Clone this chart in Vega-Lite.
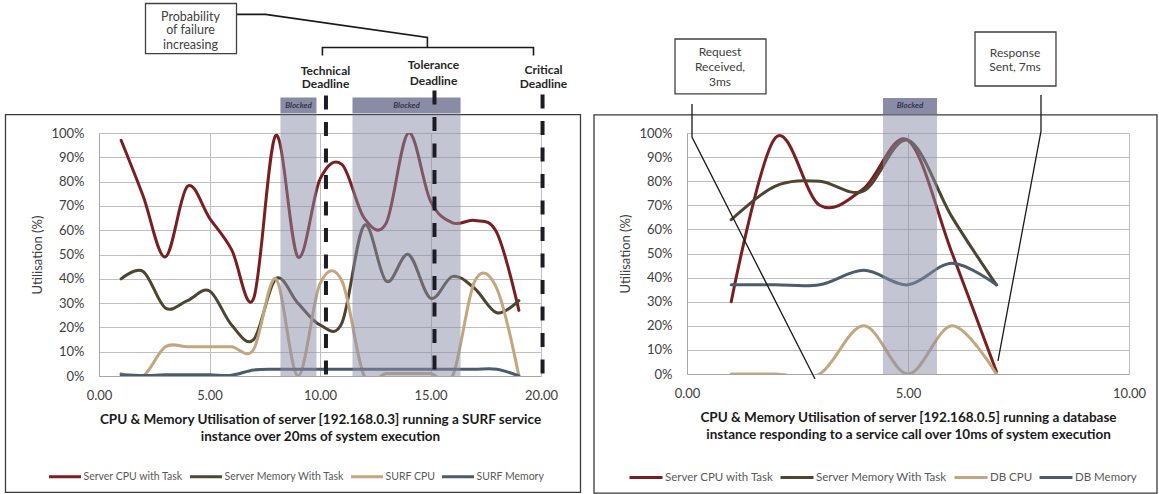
{
  "$schema": "https://vega.github.io/schema/vega-lite/v6.json",
  "background": "white",
  "padding": {"left": 4, "top": 2, "right": 0, "bottom": 0},
  "bounds": "flush",
  "spacing": 146,
  "datasets": {
    "L": [
      {"x": 1, "Server CPU with Task": 0.97, "Server Memory With Task": 0.40, "SURF CPU": 0.01, "SURF Memory": 0.005},
      {"x": 2, "Server CPU with Task": 0.74, "Server Memory With Task": 0.43, "SURF CPU": 0.00, "SURF Memory": 0.002},
      {"x": 3, "Server CPU with Task": 0.49, "Server Memory With Task": 0.28, "SURF CPU": 0.12, "SURF Memory": 0.005},
      {"x": 4, "Server CPU with Task": 0.78, "Server Memory With Task": 0.31, "SURF CPU": 0.12, "SURF Memory": 0.005},
      {"x": 5, "Server CPU with Task": 0.65, "Server Memory With Task": 0.35, "SURF CPU": 0.12, "SURF Memory": 0.005},
      {"x": 6, "Server CPU with Task": 0.52, "Server Memory With Task": 0.21, "SURF CPU": 0.12, "SURF Memory": 0.003},
      {"x": 7, "Server CPU with Task": 0.32, "Server Memory With Task": 0.15, "SURF CPU": 0.11, "SURF Memory": 0.025},
      {"x": 8, "Server CPU with Task": 0.99, "Server Memory With Task": 0.40, "SURF CPU": 0.40, "SURF Memory": 0.028},
      {"x": 9, "Server CPU with Task": 0.49, "Server Memory With Task": 0.30, "SURF CPU": 0.00, "SURF Memory": 0.028},
      {"x": 10, "Server CPU with Task": 0.81, "Server Memory With Task": 0.21, "SURF CPU": 0.38, "SURF Memory": 0.028},
      {"x": 11, "Server CPU with Task": 0.87, "Server Memory With Task": 0.22, "SURF CPU": 0.39, "SURF Memory": 0.028},
      {"x": 12, "Server CPU with Task": 0.65, "Server Memory With Task": 0.62, "SURF CPU": 0.00, "SURF Memory": 0.028},
      {"x": 13, "Server CPU with Task": 0.63, "Server Memory With Task": 0.39, "SURF CPU": 0.01, "SURF Memory": 0.028},
      {"x": 14, "Server CPU with Task": 1.00, "Server Memory With Task": 0.50, "SURF CPU": 0.01, "SURF Memory": 0.028},
      {"x": 15, "Server CPU with Task": 0.72, "Server Memory With Task": 0.32, "SURF CPU": 0.01, "SURF Memory": 0.028},
      {"x": 16, "Server CPU with Task": 0.63, "Server Memory With Task": 0.41, "SURF CPU": 0.00, "SURF Memory": 0.028},
      {"x": 17, "Server CPU with Task": 0.64, "Server Memory With Task": 0.36, "SURF CPU": 0.39, "SURF Memory": 0.028},
      {"x": 18, "Server CPU with Task": 0.59, "Server Memory With Task": 0.26, "SURF CPU": 0.36, "SURF Memory": 0.028},
      {"x": 19, "Server CPU with Task": 0.27, "Server Memory With Task": 0.31, "SURF CPU": 0.00, "SURF Memory": 0.0}
    ],
    "R": [
      {"x": 1, "Server CPU with Task": 0.30, "Server Memory With Task": 0.64, "DB CPU": 0.0, "DB Memory": 0.37},
      {"x": 2, "Server CPU with Task": 0.98, "Server Memory With Task": 0.78, "DB CPU": 0.0, "DB Memory": 0.37},
      {"x": 3, "Server CPU with Task": 0.70, "Server Memory With Task": 0.80, "DB CPU": 0.0, "DB Memory": 0.37},
      {"x": 4, "Server CPU with Task": 0.77, "Server Memory With Task": 0.76, "DB CPU": 0.20, "DB Memory": 0.43},
      {"x": 5, "Server CPU with Task": 0.97, "Server Memory With Task": 0.97, "DB CPU": 0.0, "DB Memory": 0.37},
      {"x": 6, "Server CPU with Task": 0.50, "Server Memory With Task": 0.65, "DB CPU": 0.20, "DB Memory": 0.46},
      {"x": 7, "Server CPU with Task": 0.01, "Server Memory With Task": 0.37, "DB CPU": 0.0, "DB Memory": 0.37}
    ],
    "Lframe": [{"x": -4.231, "x2": 21.787, "y": -0.479, "y2": 1.076}],
    "Lblock": [{"x": 8.21, "x2": 9.84, "y": 0, "y2": 1.076}, {"x": 11.47, "x2": 16.36, "y": 0, "y2": 1.076}],
    "Lband": [{"x": 8.21, "x2": 9.84, "y": 1.080, "y2": 1.146}, {"x": 11.47, "x2": 16.36, "y": 1.080, "y2": 1.146}],
    "Lbandlbl": [{"x": 9.025, "y": 1.113, "label": "Blocked"}, {"x": 13.915, "y": 1.113, "label": "Blocked"}],
    "Ldead": [{"x": 10.27, "y": 1.154, "y2": 0}, {"x": 15.18, "y": 1.175, "y2": 0}, {"x": 20.07, "y": 1.158, "y2": 0}],
    "Lpath": [
      {"path": "p", "k": 1, "x": 6.222, "y": 1.488},
      {"path": "p", "k": 2, "x": 7.534, "y": 1.488},
      {"path": "p", "k": 3, "x": 14.86, "y": 1.393},
      {"path": "p", "k": 4, "x": 14.86, "y": 1.352},
      {"path": "b", "k": 1, "x": 10.11, "y": 1.319},
      {"path": "b", "k": 2, "x": 10.11, "y": 1.352},
      {"path": "b", "k": 3, "x": 19.66, "y": 1.352},
      {"path": "b", "k": 4, "x": 19.66, "y": 1.319}
    ],
    "Lbox": [{"x": 2.104, "x2": 6.222, "y": 1.327, "y2": 1.533}],
    "Lnote": [
      {"x": 4.14, "y": 1.479, "label": "Probability"},
      {"x": 4.14, "y": 1.422, "label": "of failure"},
      {"x": 4.14, "y": 1.364, "label": "increasing"}
    ],
    "Ldl": [
      {"x": 10.249, "y": 1.257, "label": "Technical"},
      {"x": 10.249, "y": 1.200, "label": "Deadline"},
      {"x": 15.136, "y": 1.278, "label": "Tolerance"},
      {"x": 15.136, "y": 1.216, "label": "Deadline"},
      {"x": 20.113, "y": 1.261, "label": "Critical"},
      {"x": 20.113, "y": 1.200, "label": "Deadline"}
    ],
    "Rframe": [{"x": -2.104, "x2": 10.633, "y": -0.494, "y2": 1.075}],
    "Rblock": [{"x": 4.434, "x2": 5.656, "y": 0, "y2": 1.075}],
    "Rband": [{"x": 4.434, "x2": 5.656, "y": 1.079, "y2": 1.145}],
    "Rbandlbl": [{"x": 5.045, "y": 1.112, "label": "Blocked"}],
    "Rpath": [
      {"path": "q", "k": 1, "x": 0.113, "y": 1.120},
      {"path": "q", "k": 2, "x": 0.113, "y": 0.983},
      {"path": "q", "k": 3, "x": 2.896, "y": -0.021},
      {"path": "r", "k": 1, "x": 8.009, "y": 1.158},
      {"path": "r", "k": 2, "x": 8.009, "y": 1.008},
      {"path": "r", "k": 3, "x": 7.036, "y": 0.054}
    ],
    "Rbox": [{"x": -0.271, "x2": 1.787, "y": 1.162, "y2": 1.390}, {"x": 6.516, "x2": 8.348, "y": 1.195, "y2": 1.419}],
    "Rnote": [
      {"x": 0.747, "y": 1.336, "label": "Request"},
      {"x": 0.747, "y": 1.274, "label": "Received,"},
      {"x": 0.747, "y": 1.212, "label": "3ms"},
      {"x": 7.421, "y": 1.332, "label": "Response"},
      {"x": 7.421, "y": 1.274, "label": "Sent, 7ms"}
    ]
  },
  "hconcat": [
    {
      "width": 442,
      "height": 243,
      "encoding": {
        "x": {"field": "x", "type": "quantitative", "scale": {"domain": [0, 20], "nice": false, "zero": false},
          "axis": {"values": [0, 5, 10, 15, 20], "format": ".2f",
            "title": ["CPU & Memory Utilisation of server [192.168.0.3] running a SURF service", "instance over 20ms of system execution"]}},
        "y": {"field": "y", "type": "quantitative", "scale": {"domain": [0, 1], "nice": false, "zero": false},
          "axis": {"values": [0, 0.1, 0.2, 0.3, 0.4, 0.5, 0.6, 0.7, 0.8, 0.9, 1], "format": ".0%", "title": "Utilisation (%)"}}
      },
      "layer": [
        {"data": {"name": "Lframe"}, "mark": {"type": "rect", "fill": "transparent", "stroke": "#3A3A3A", "strokeWidth": 1.3},
          "encoding": {"x2": {"field": "x2"}, "y2": {"field": "y2"}}},
        {"data": {"name": "L"},
          "transform": [{"fold": ["Server CPU with Task", "Server Memory With Task", "SURF CPU", "SURF Memory"], "as": ["series", "y"]}],
          "mark": {"type": "line", "interpolate": "cardinal", "strokeWidth": 3, "clip": true, "strokeCap": "round"},
          "encoding": {"color": {"field": "series", "type": "nominal",
            "scale": {"domain": ["Server CPU with Task", "Server Memory With Task", "SURF CPU", "SURF Memory"], "range": ["#7A1F1F", "#4E4530", "#C4A67E", "#4A5D6F"]},
            "legend": {"orient": "none", "legendX": -51.5, "legendY": 326, "direction": "horizontal", "columns": 4, "title": null,
              "symbolType": "stroke", "symbolSize": 1024, "symbolStrokeWidth": 3, "labelFontSize": 10.5, "labelColor": "#595959",
              "labelOffset": 1, "columnPadding": 0, "padding": 0}}}},
        {"data": {"name": "Lblock"}, "mark": {"type": "rect", "fill": "#8A8CA8", "opacity": 0.5},
          "encoding": {"x2": {"field": "x2"}, "y2": {"field": "y2"}}},
        {"data": {"name": "Lband"}, "mark": {"type": "rect", "fill": "#8A8BA5"},
          "encoding": {"x2": {"field": "x2"}, "y2": {"field": "y2"}}},
        {"data": {"name": "Lbandlbl"}, "mark": {"type": "text", "fontSize": 8, "fontStyle": "italic", "fontWeight": "bold", "color": "#35354F", "baseline": "middle"},
          "encoding": {"text": {"field": "label"}}},
        {"data": {"name": "Ldead"}, "mark": {"type": "rule", "color": "#1C1C26", "strokeWidth": 4, "strokeDash": [14, 12.5]},
          "encoding": {"y2": {"field": "y2"}}},
        {"data": {"name": "Lpath"}, "mark": {"type": "line", "color": "#1A1A1A", "strokeWidth": 1.6},
          "encoding": {"detail": {"field": "path"}, "order": {"field": "k"}}},
        {"data": {"name": "Lbox"}, "mark": {"type": "rect", "fill": "white", "stroke": "#404040", "strokeWidth": 1.3},
          "encoding": {"x2": {"field": "x2"}, "y2": {"field": "y2"}}},
        {"data": {"name": "Lnote"}, "mark": {"type": "text", "fontSize": 12.5, "color": "#404040", "baseline": "middle"},
          "encoding": {"text": {"field": "label"}}},
        {"data": {"name": "Ldl"}, "mark": {"type": "text", "fontSize": 12, "fontWeight": "bold", "color": "#262626", "baseline": "middle"},
          "encoding": {"text": {"field": "label"}}}
      ]
    },
    {
      "width": 442,
      "height": 241,
      "encoding": {
        "x": {"field": "x", "type": "quantitative", "scale": {"domain": [0, 10], "nice": false, "zero": false},
          "axis": {"values": [0, 5, 10], "format": ".2f",
            "title": ["CPU & Memory Utilisation of server [192.168.0.5] running a database", "instance responding to a service call over 10ms of system execution"]}},
        "y": {"field": "y", "type": "quantitative", "scale": {"domain": [0, 1], "nice": false, "zero": false},
          "axis": {"values": [0, 0.1, 0.2, 0.3, 0.4, 0.5, 0.6, 0.7, 0.8, 0.9, 1], "format": ".0%", "title": "Utilisation (%)"}}
      },
      "layer": [
        {"data": {"name": "Rframe"}, "mark": {"type": "rect", "fill": "transparent", "stroke": "#3A3A3A", "strokeWidth": 1.3},
          "encoding": {"x2": {"field": "x2"}, "y2": {"field": "y2"}}},
        {"data": {"name": "R"},
          "transform": [{"fold": ["Server CPU with Task", "Server Memory With Task", "DB CPU", "DB Memory"], "as": ["series", "y"]}],
          "mark": {"type": "line", "interpolate": "cardinal", "strokeWidth": 3, "clip": true, "strokeCap": "round"},
          "encoding": {"color": {"field": "series", "type": "nominal",
            "scale": {"domain": ["Server CPU with Task", "Server Memory With Task", "DB CPU", "DB Memory"], "range": ["#7A1F1F", "#4E4530", "#C4A67E", "#4A5D6F"]},
            "legend": {"orient": "none", "legendX": -59, "legendY": 326.5, "direction": "horizontal", "columns": 4, "title": null,
              "symbolType": "stroke", "symbolSize": 1089, "symbolStrokeWidth": 3, "labelFontSize": 11.5, "labelColor": "#595959",
              "labelOffset": 1, "columnPadding": 0, "padding": 0}}}},
        {"data": {"name": "Rblock"}, "mark": {"type": "rect", "fill": "#8A8CA8", "opacity": 0.5},
          "encoding": {"x2": {"field": "x2"}, "y2": {"field": "y2"}}},
        {"data": {"name": "Rband"}, "mark": {"type": "rect", "fill": "#8A8BA5"},
          "encoding": {"x2": {"field": "x2"}, "y2": {"field": "y2"}}},
        {"data": {"name": "Rbandlbl"}, "mark": {"type": "text", "fontSize": 8, "fontStyle": "italic", "fontWeight": "bold", "color": "#35354F", "baseline": "middle"},
          "encoding": {"text": {"field": "label"}}},
        {"data": {"name": "Rpath"}, "mark": {"type": "line", "color": "#1A1A1A", "strokeWidth": 1.3},
          "encoding": {"detail": {"field": "path"}, "order": {"field": "k"}}},
        {"data": {"name": "Rbox"}, "mark": {"type": "rect", "fill": "white", "stroke": "#404040", "strokeWidth": 1.3},
          "encoding": {"x2": {"field": "x2"}, "y2": {"field": "y2"}}},
        {"data": {"name": "Rnote"}, "mark": {"type": "text", "fontSize": 12, "color": "#404040", "baseline": "middle"},
          "encoding": {"text": {"field": "label"}}}
      ]
    }
  ],
  "resolve": {"scale": {"color": "independent", "x": "independent", "y": "independent"}, "legend": {"color": "independent"}},
  "config": {
    "font": "Lato",
    "view": {"stroke": null},
    "axis": {"ticks": false, "tickSize": 0, "gridColor": "#BFBFBF", "gridWidth": 1, "domainColor": "#A6A6A6", "domainWidth": 1,
      "labelColor": "#404040", "labelFontSize": 13, "labelFont": "Lato", "labelOverlap": false, "titleFont": "Lato"},
    "axisX": {"labelPadding": 13, "labelFlush": false, "titleFontSize": 13.5, "titleFontWeight": "bold", "titleColor": "#1A1A1A", "titlePadding": 10, "titleLineHeight": 17.5},
    "axisY": {"labelPadding": 15, "titleFontSize": 13, "titleFontWeight": "normal", "titleColor": "#404040", "titlePadding": 6}
  }
}
